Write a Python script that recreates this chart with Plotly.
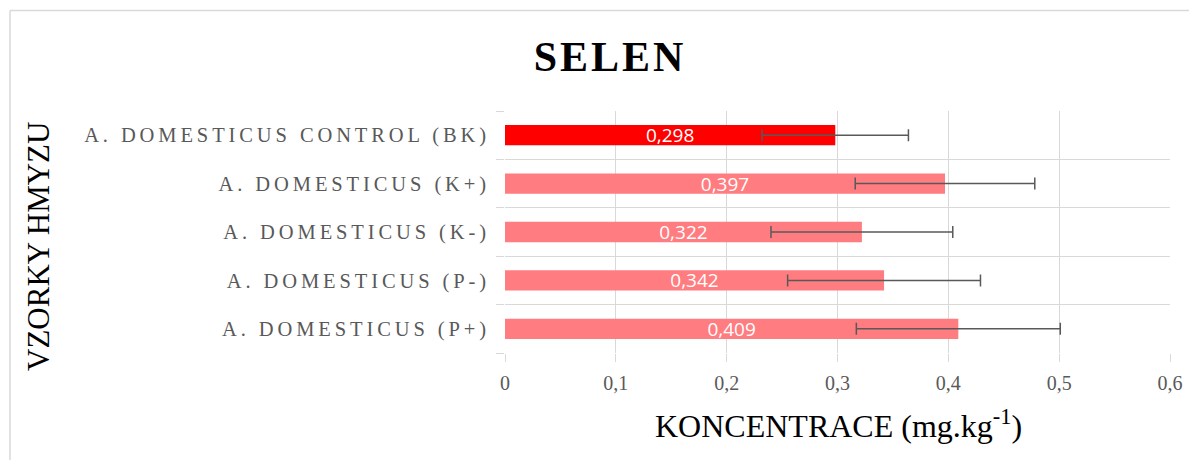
import plotly.graph_objects as go

categories = [
    "A. DOMESTICUS (P+)",
    "A. DOMESTICUS (P-)",
    "A. DOMESTICUS (K-)",
    "A. DOMESTICUS (K+)",
    "A. DOMESTICUS CONTROL (BK)",
]
values = [0.409, 0.342, 0.322, 0.397, 0.298]
errors = [0.092, 0.087, 0.082, 0.081, 0.066]
bar_colors = ["#FF7C80", "#FF7C80", "#FF7C80", "#FF7C80", "#FF0000"]
x_ticks = [0, 0.1, 0.2, 0.3, 0.4, 0.5, 0.6]
x_tick_labels = ["0", "0,1", "0,2", "0,3", "0,4", "0,5", "0,6"]
value_labels = [f"{v:.3f}".replace(".", ",") for v in values]

OFF = 8  # default page body margin
W, H = 1197 - 2 * OFF, 468 - 2 * OFF


def fx(px):
    return px - OFF


PL, PR, PT, PB = fx(505), fx(1170), fx(111), fx(353)
L, R, T, B = PL, W - PR, PT, H - PB
PW, PH = PR - PL, PB - PT


def xp(px):
    return (fx(px) - PL) / PW


def yp(py):
    return (PB - fx(py)) / PH


serif = "Liberation Serif, Times New Roman, serif"

fig = go.Figure()
fig.add_trace(go.Bar(
    y=categories,
    x=values,
    orientation="h",
    marker=dict(color=bar_colors, line=dict(width=0)),
    width=0.42,
    text=value_labels,
    textposition="inside",
    insidetextanchor="middle",
    textangle=0,
    constraintext="none",
    cliponaxis=False,
    textfont=dict(family="Open Sans, Liberation Sans, sans-serif", size=19, color="white"),
    error_x=dict(type="data", array=errors, symmetric=True,
                 color="#595959", thickness=1.5, width=6),
    hoverinfo="skip",
))

ticktext_y = [f'<span style="letter-spacing:3.9px">{c}</span>' for c in categories]

fig.update_layout(
    width=W, height=H,
    margin=dict(l=L, r=R, t=T, b=B, autoexpand=False),
    paper_bgcolor="white",
    plot_bgcolor="white",
    showlegend=False,
    title=dict(
        text='<span style="letter-spacing:3px">SELEN</span>',
        font=dict(family=serif, size=42, color="black", weight="bold"),
        x=xp(610), xref="paper", xanchor="center",
        y=1 - fx(56) / H, yref="container", yanchor="middle",
    ),
    xaxis=dict(
        range=[0, 0.6],
        tickvals=x_ticks, ticktext=x_tick_labels,
        showgrid=True, gridcolor="#D9D9D9", gridwidth=1,
        zeroline=False, showline=False,
        ticks="outside", ticklen=8, tickcolor="#D9D9D9",
        tickfont=dict(family=serif, size=20, color="#595959"),
        ticklabelstandoff=4,
        automargin=False,
    ),
    yaxis=dict(
        categoryorder="array", categoryarray=categories,
        tickvals=categories, ticktext=ticktext_y,
        tickson="boundaries",
        showgrid=True, gridcolor="#D9D9D9", gridwidth=1,
        zeroline=False, showline=False,
        ticks="outside", ticklen=8, tickcolor="#D9D9D9",
        tickfont=dict(family=serif, size=20.5, color="#595959"),
        ticklabelstandoff=14,
        automargin=False,
    ),
    annotations=[
        dict(text="KONCENTRACE (mg.kg<sup>-1</sup>)", xref="paper", yref="paper",
             x=xp(838), y=yp(424), xanchor="center", yanchor="middle",
             showarrow=False, font=dict(family=serif, size=32, color="black")),
        dict(text="VZORKY HMYZU", xref="paper", yref="paper",
             x=xp(38), y=yp(247),
             xanchor="center", yanchor="middle", textangle=-90,
             showarrow=False, font=dict(family=serif, size=31, color="black")),
    ],
    shapes=[
        dict(type="line", xref="paper", yref="paper",
             x0=xp(10), x1=xp(1200), y0=yp(10.5), y1=yp(10.5),
             line=dict(color="#D9D9D9", width=1.5), layer="below"),
        dict(type="line", xref="paper", yref="paper",
             x0=xp(10), x1=xp(10), y0=yp(10.5), y1=yp(480),
             line=dict(color="#D9D9D9", width=1.5), layer="below"),
    ],
)

fig.write_html("out.html")
